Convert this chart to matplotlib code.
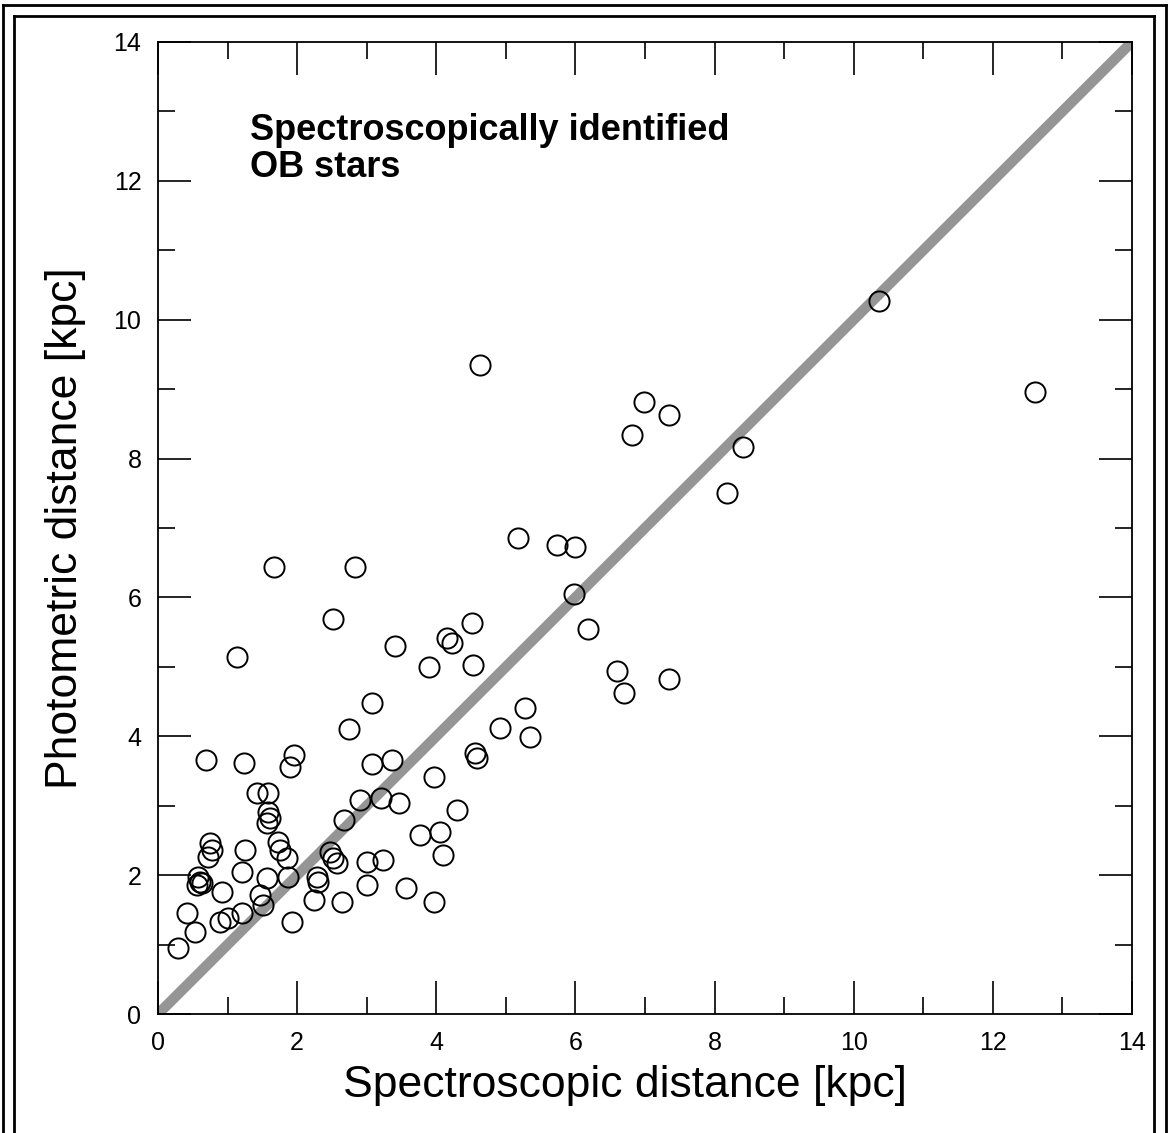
import numpy as np
import matplotlib
matplotlib.use("Agg")
import matplotlib.pyplot as plt
from matplotlib.lines import Line2D

plt.rcParams['font.family'] = ['Liberation Sans', 'DejaVu Sans']

# spectroscopic distance [kpc]
spec_dist = [0.29, 0.42, 0.53, 0.89, 1.00, 1.20, 1.92, 0.57, 0.60, 0.56,
             0.63, 0.92, 1.56, 1.46, 1.51, 1.87, 0.75, 0.77, 0.72, 1.25,
             1.20, 1.72, 1.75, 1.85, 1.42, 1.58, 1.58, 1.61, 1.56, 0.69,
             1.23, 1.95, 1.89, 1.13, 1.66, 2.24, 2.28, 2.30, 2.47, 2.51,
             2.57, 2.64, 2.68, 2.75, 2.90, 3.21, 3.47, 3.01, 3.00, 3.23,
             3.57, 3.97, 4.09, 3.76, 4.05, 4.30, 3.97, 3.07, 3.36, 3.08,
             2.51, 2.83, 3.41, 3.90, 4.16, 4.23, 4.52, 4.53, 4.55, 4.59,
             4.91, 5.27, 5.34, 5.17, 5.74, 5.99, 5.98, 6.18, 6.60, 6.70,
             7.35, 4.63, 6.82, 6.99, 7.35, 8.18, 8.41, 10.37, 12.61]
# photometric distance [kpc]
phot_dist = [0.95, 1.46, 1.18, 1.33, 1.38, 1.46, 1.33, 1.97, 1.90, 1.86,
             1.89, 1.76, 1.96, 1.71, 1.57, 1.97, 2.46, 2.36, 2.26, 2.36,
             2.05, 2.48, 2.36, 2.25, 3.18, 3.18, 2.91, 2.82, 2.75, 3.66,
             3.62, 3.73, 3.56, 5.14, 6.44, 1.64, 1.97, 1.90, 2.33, 2.25,
             2.18, 1.61, 2.80, 4.10, 3.08, 3.11, 3.04, 1.86, 2.19, 2.22,
             1.82, 1.61, 2.29, 2.58, 2.62, 2.94, 3.42, 3.60, 3.66, 4.48,
             5.69, 6.44, 5.30, 5.00, 5.42, 5.35, 5.63, 5.03, 3.76, 3.69,
             4.12, 4.41, 3.99, 6.86, 6.76, 6.73, 6.05, 5.55, 4.94, 4.63,
             4.83, 9.34, 8.34, 8.82, 8.62, 7.51, 8.17, 10.27, 8.96]

one_to_one = [0, 14]
major_ticks = [0, 2, 4, 6, 8, 10, 12, 14]
minor_ticks = [1, 3, 5, 7, 9, 11, 13]

fig = plt.figure(figsize=(11.69, 11.33), dpi=100)
ax = fig.add_axes([0.1352, 0.105, 0.8331, 0.858])

ax.plot(one_to_one, one_to_one, color='#959595', lw=7.5, solid_capstyle='butt', zorder=1)
ax.plot(spec_dist, phot_dist, 'o', ms=14.5, mfc='none', mec='black', mew=1.4, zorder=2)

ax.set_xlim(0, 14)
ax.set_ylim(0, 14)
ax.set_xticks(major_ticks)
ax.set_yticks(major_ticks)
ax.set_xticks(minor_ticks, minor=True)
ax.set_yticks(minor_ticks, minor=True)
ax.tick_params(which='both', direction='in', top=True, right=True, width=1.2, labelsize=18)
ax.tick_params(which='major', length=24, pad=12)
ax.tick_params(which='minor', length=12)
for sp in ax.spines.values():
    sp.set_linewidth(1.3)

ax.set_xlabel('Spectroscopic distance [kpc]', fontsize=32)
ax.set_ylabel('Photometric distance [kpc]', fontsize=32, labelpad=20)
ax.xaxis.set_label_coords(0.479, -0.052)

ax.text(1.32, 12.97, 'Spectroscopically identified\nOB stars', fontsize=26,
        fontweight='bold', ha='left', va='top', linespacing=1.05)

# double frame around the figure
W, H = 1169.0, 1133.0
def fline(x0, y0, x1, y1):
    fig.add_artist(Line2D([x0 / W, x1 / W], [1 - y0 / H, 1 - y1 / H],
                          color='black', lw=2.0, transform=fig.transFigure))
fline(3, 5, 1166, 5)
fline(3, 5, 3, 1133)
fline(1166, 5, 1166, 1133)
fline(14, 16, 1154, 16)
fline(14, 16, 14, 1133)
fline(1154, 16, 1154, 1133)

fig.savefig('out.png', dpi=100)
